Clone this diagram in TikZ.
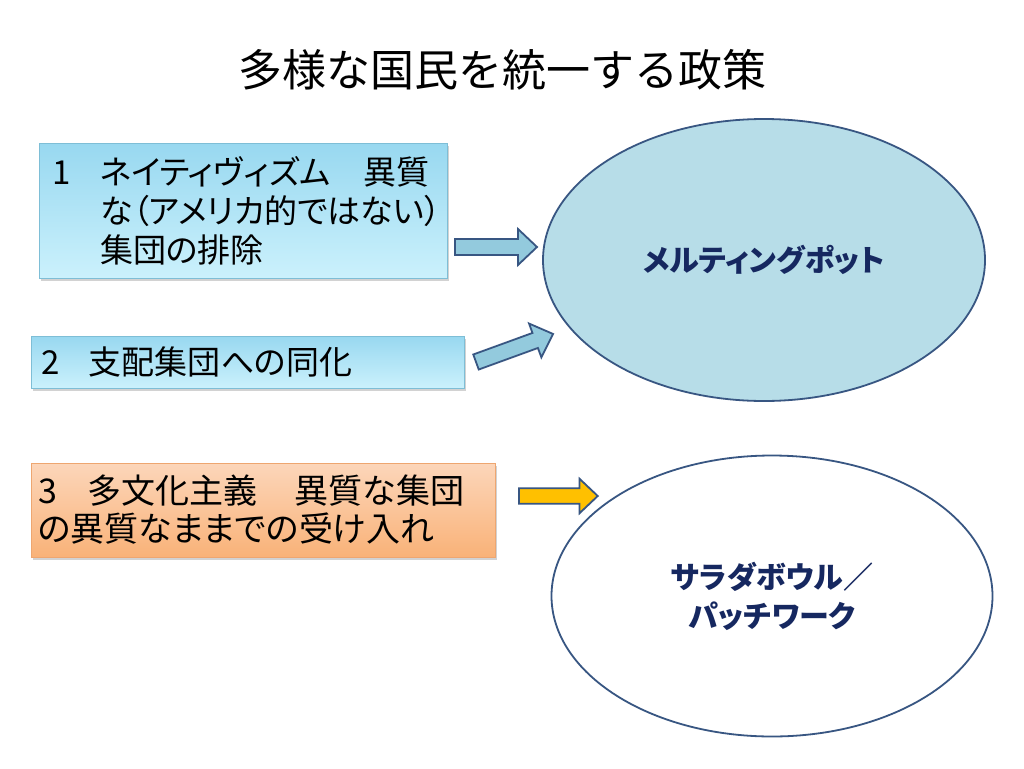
\documentclass[tikz,border=0pt]{standalone}
\usepackage{fontspec}
\setmainfont{Noto Sans CJK JP}
\newfontfamily\propfont[RawFeature=+palt]{Noto Sans CJK JP}
\usepackage{tikz}
\usetikzlibrary{shapes.geometric,shadows}
\definecolor{boxtopb}{RGB}{152,216,240}
\definecolor{boxbotb}{RGB}{203,241,252}
\definecolor{boxlineb}{RGB}{126,190,214}
\definecolor{boxtopo}{RGB}{252,214,186}
\definecolor{boxboto}{RGB}{249,178,120}
\definecolor{boxlineo}{RGB}{238,166,112}
\definecolor{potfill}{RGB}{183,221,232}
\definecolor{ovline}{RGB}{56,86,130}
\definecolor{arrblue}{RGB}{147,202,221}
\definecolor{arrgold}{RGB}{255,192,0}
\definecolor{navy}{RGB}{22,40,96}

\begin{document}
\begin{tikzpicture}[x=1pt,y=-1pt,
    box/.style={rectangle, draw, line width=0.8pt, inner ysep=0pt, align=left,
        font=\propfont\fontsize{33}{39}\selectfont,
        drop shadow={shadow xshift=2pt, shadow yshift=-2.5pt, opacity=0.35}},
    oval/.style={ellipse, draw=ovline, line width=1.8pt, inner sep=0pt, align=center,
        text=navy, font=\propfont\fontsize{30}{39}\selectfont\bfseries},
    blkarrow/.pic={\draw[pic actions] (0,-8) -- (63,-8) -- (63,-18) -- (82,0) -- (63,18) -- (63,8) -- (0,8) -- cycle;}]
    \fill[white] (0,0) rectangle (1024,768);
    \useasboundingbox (0,0) rectangle (1024,768);

    \node[font=\fontsize{44}{50}\selectfont] (title) at (502,70) {多様な国民を統一する政策};

    \node[box, draw=boxlineb, top color=boxtopb, bottom color=boxbotb,
        minimum width=408, minimum height=135, text width=382, inner xsep=13] (nativ) at (243,210.5)
        {\mbox{1\hspace{0.9em}ネイティヴィズム　異質}\\\mbox{\phantom{1}\hspace{0.9em}な（アメリカ的ではない）}\\\mbox{\phantom{1}\hspace{0.9em}集団の排除}};
    \node[box, draw=boxlineb, top color=boxtopb, bottom color=boxbotb,
        minimum width=433, minimum height=52, text width=413, inner xsep=10] (assim) at (247.5,362)
        {\mbox{2\hspace{0.9em}支配集団への同化}};
    \node[box, draw=boxlineo, top color=boxtopo, bottom color=boxboto,
        font=\propfont\fontsize{34}{38}\selectfont,
        minimum width=464, minimum height=94, text width=450, inner xsep=7] (multi) at (263,510)
        {\mbox{3\hspace{0.9em}多文化主義\hspace{1.1em}異質な集団}\\\mbox{の異質なままでの受け入れ}};

    \node[oval, fill=potfill, minimum width=442, minimum height=282] (melt) at (764,260) {メルティングポット};
    \node[oval, fill=white, minimum width=441, minimum height=281] (salad) at (772,596) {サラダボウル／\\パッチワーク};

    \pic[fill=arrblue, draw=ovline, line width=1.8pt] (arra) at (455,247) {blkarrow};
    \pic[fill=arrblue, draw=ovline, line width=1.8pt, rotate=20] (arrb) at (476,362) {blkarrow};
    \pic[fill=arrgold, draw=ovline, line width=1.8pt, scale=0.96] (arrc) at (519,496) {blkarrow};
\end{tikzpicture}
\end{document}
